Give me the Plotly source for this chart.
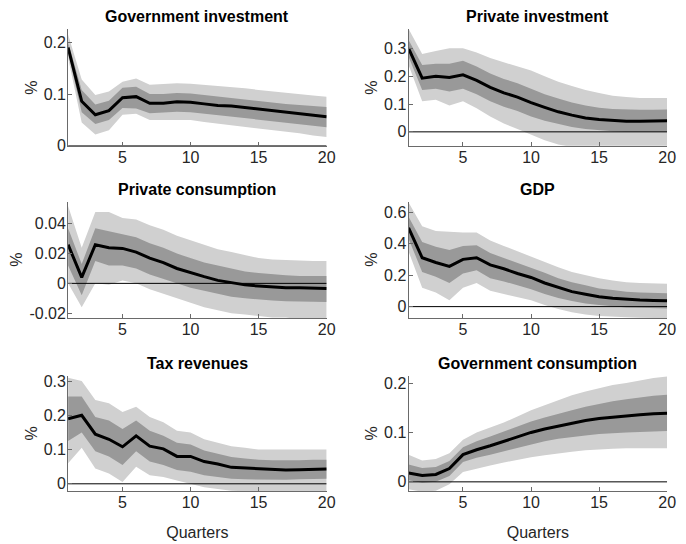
import plotly.graph_objects as go

quarters = list(range(1, 21))

titles = ["Government investment", "Private investment", "Private consumption",
          "GDP", "Tax revenues", "Government consumption"]

# Government investment
gi_med = [0.19, 0.086, 0.06, 0.068, 0.093, 0.095, 0.082, 0.082, 0.085, 0.084,
          0.081, 0.078, 0.077, 0.074, 0.071, 0.068, 0.065, 0.062, 0.059, 0.056]
gi_lo68 = [0.18, 0.065, 0.042, 0.05, 0.073, 0.072, 0.063, 0.064, 0.066, 0.065,
           0.062, 0.059, 0.057, 0.054, 0.051, 0.048, 0.045, 0.042, 0.039, 0.036]
gi_hi68 = [0.2, 0.108, 0.08, 0.087, 0.112, 0.114, 0.1, 0.1, 0.102, 0.101,
           0.098, 0.095, 0.093, 0.09, 0.087, 0.084, 0.081, 0.079, 0.077, 0.075]
gi_lo90 = [0.17, 0.045, 0.022, 0.03, 0.06, 0.062, 0.05, 0.05, 0.051, 0.05,
           0.046, 0.043, 0.04, 0.037, 0.034, 0.031, 0.027, 0.024, 0.02, 0.017]
gi_hi90 = [0.215, 0.128, 0.098, 0.105, 0.124, 0.13, 0.118, 0.12, 0.121, 0.12,
           0.118, 0.116, 0.114, 0.111, 0.108, 0.105, 0.102, 0.1, 0.097, 0.095]

# Private investment
pi_med = [0.30, 0.193, 0.20, 0.195, 0.205, 0.185, 0.16, 0.14, 0.125, 0.105,
          0.088, 0.072, 0.06, 0.05, 0.044, 0.04, 0.038, 0.038, 0.039, 0.04]
pi_lo68 = [0.27, 0.15, 0.155, 0.145, 0.155, 0.135, 0.11, 0.09, 0.075, 0.055,
           0.04, 0.028, 0.017, 0.01, 0.005, 0.002, 0.0, 0.0, 0.0, 0.0]
pi_hi68 = [0.33, 0.24, 0.245, 0.245, 0.255, 0.235, 0.21, 0.19, 0.175, 0.155,
           0.135, 0.12, 0.105, 0.095, 0.087, 0.082, 0.08, 0.079, 0.079, 0.08]
pi_lo90 = [0.24, 0.11, 0.115, 0.095, 0.11, 0.085, 0.055, 0.03, 0.01, -0.01,
           -0.03, -0.045, -0.055, -0.06, -0.065, -0.068, -0.07, -0.07, -0.07, -0.07]
pi_hi90 = [0.37, 0.28, 0.29, 0.30, 0.30, 0.285, 0.265, 0.25, 0.235, 0.22,
           0.2, 0.18, 0.165, 0.15, 0.14, 0.13, 0.125, 0.122, 0.122, 0.122]

# Private consumption
pc_med = [0.026, 0.004, 0.026, 0.024, 0.0235, 0.021, 0.017, 0.014, 0.010, 0.007,
          0.0045, 0.002, 0.0005, -0.001, -0.0018, -0.0025, -0.003, -0.003, -0.0033, -0.0035]
pc_lo68 = [0.012, -0.008, 0.015, 0.012, 0.012, 0.01, 0.006, 0.003, -0.0005, -0.003,
           -0.005, -0.007, -0.009, -0.01, -0.011, -0.0115, -0.012, -0.012, -0.012, -0.0125]
pc_hi68 = [0.037, 0.013, 0.037, 0.035, 0.033, 0.031, 0.027, 0.024, 0.02, 0.017,
           0.014, 0.012, 0.01, 0.008, 0.007, 0.006, 0.0055, 0.005, 0.005, 0.005]
pc_lo90 = [0.0, -0.016, 0.0, -0.001, 0.002, 0.0, -0.004, -0.007, -0.01, -0.013,
           -0.016, -0.018, -0.02, -0.021, -0.022, -0.023, -0.023, -0.024, -0.024, -0.024]
pc_hi90 = [0.052, 0.024, 0.048, 0.048, 0.044, 0.043, 0.039, 0.036, 0.032, 0.029,
           0.026, 0.023, 0.021, 0.019, 0.017, 0.016, 0.0155, 0.015, 0.015, 0.015]

# GDP
gdp_med = [0.50, 0.31, 0.28, 0.255, 0.30, 0.31, 0.265, 0.24, 0.21, 0.185,
           0.15, 0.12, 0.095, 0.078, 0.063, 0.053, 0.046, 0.042, 0.039, 0.037]
gdp_lo68 = [0.43, 0.22, 0.19, 0.15, 0.21, 0.23, 0.18, 0.16, 0.135, 0.11,
            0.08, 0.055, 0.035, 0.02, 0.01, 0.002, -0.005, -0.008, -0.01, -0.012]
gdp_hi68 = [0.57, 0.41, 0.38, 0.36, 0.385, 0.39, 0.34, 0.31, 0.28, 0.25,
            0.215, 0.18, 0.155, 0.135, 0.115, 0.105, 0.095, 0.09, 0.087, 0.085]
gdp_lo90 = [0.35, 0.12, 0.09, 0.04, 0.12, 0.15, 0.1, 0.08, 0.06, 0.04,
            0.01, -0.015, -0.035, -0.05, -0.06, -0.065, -0.068, -0.07, -0.072, -0.074]
gdp_hi90 = [0.66, 0.51, 0.48, 0.475, 0.47, 0.47, 0.42, 0.385, 0.35, 0.32,
            0.285, 0.25, 0.22, 0.2, 0.18, 0.165, 0.155, 0.15, 0.147, 0.145]

# Tax revenues
tax_med = [0.19, 0.20, 0.145, 0.13, 0.108, 0.14, 0.11, 0.102, 0.08, 0.08,
           0.065, 0.058, 0.048, 0.046, 0.042, 0.041, 0.04, 0.041, 0.042, 0.043]
tax_lo68 = [0.125, 0.15, 0.095, 0.08, 0.055, 0.095, 0.065, 0.055, 0.04, 0.035,
            0.025, 0.02, 0.015, 0.013, 0.012, 0.012, 0.012, 0.013, 0.014, 0.015]
tax_hi68 = [0.255, 0.255, 0.195, 0.185, 0.16, 0.185, 0.155, 0.14, 0.12, 0.115,
            0.097, 0.088, 0.078, 0.074, 0.07, 0.069, 0.068, 0.069, 0.07, 0.07]
tax_lo90 = [0.06, 0.105, 0.045, 0.03, 0.005, 0.05, 0.025, 0.02, 0.01, 0.0,
            -0.01, -0.015, -0.02, -0.022, -0.024, -0.025, -0.025, -0.025, -0.025, -0.025]
tax_hi90 = [0.31, 0.30, 0.245, 0.235, 0.21, 0.225, 0.195, 0.18, 0.155, 0.15,
            0.13, 0.12, 0.11, 0.105, 0.1, 0.1, 0.099, 0.1, 0.1, 0.1]

# Government consumption
gc_med = [0.018, 0.013, 0.015, 0.027, 0.055, 0.065, 0.073, 0.082, 0.091, 0.1,
          0.107, 0.113, 0.119, 0.124, 0.128, 0.131, 0.134, 0.136, 0.138, 0.139]
gc_lo68 = [0.003, -0.002, 0.0, 0.012, 0.04, 0.049, 0.055, 0.062, 0.069, 0.076,
           0.082, 0.087, 0.091, 0.094, 0.097, 0.099, 0.1, 0.101, 0.102, 0.103]
gc_hi68 = [0.035, 0.028, 0.03, 0.042, 0.07, 0.082, 0.092, 0.102, 0.112, 0.122,
           0.13, 0.138, 0.145, 0.152, 0.158, 0.163, 0.167, 0.171, 0.174, 0.176]
gc_lo90 = [-0.015, -0.02, -0.018, -0.005, 0.02, 0.027, 0.033, 0.039, 0.045, 0.05,
           0.054, 0.058, 0.061, 0.064, 0.066, 0.067, 0.068, 0.068, 0.068, 0.068]
gc_hi90 = [0.055, 0.043, 0.046, 0.058, 0.085, 0.1, 0.11, 0.12, 0.132, 0.145,
           0.155, 0.165, 0.175, 0.183, 0.19, 0.196, 0.2, 0.205, 0.21, 0.213]

y_ranges = [[0, 0.225], [-0.05, 0.368], [-0.0232, 0.055],
            [-0.0716, 0.667], [-0.021, 0.316], [-0.0185, 0.215]]
y_ticks = [[0, 0.1, 0.2], [0, 0.1, 0.2, 0.3], [-0.02, 0, 0.02, 0.04],
           [0, 0.2, 0.4, 0.6], [0, 0.1, 0.2, 0.3], [0, 0.1, 0.2]]
y_ticktext = [["0", "0.1", "0.2"], ["0", "0.1", "0.2", "0.3"],
              ["-0.02", "0", "0.02", "0.04"], ["0", "0.2", "0.4", "0.6"],
              ["0", "0.1", "0.2", "0.3"], ["0", "0.1", "0.2"]]
x_ticks = [5, 10, 15, 20]

panels = [
    (gi_med, gi_lo68, gi_hi68, gi_lo90, gi_hi90),
    (pi_med, pi_lo68, pi_hi68, pi_lo90, pi_hi90),
    (pc_med, pc_lo68, pc_hi68, pc_lo90, pc_hi90),
    (gdp_med, gdp_lo68, gdp_hi68, gdp_lo90, gdp_hi90),
    (tax_med, tax_lo68, tax_hi68, tax_lo90, tax_hi90),
    (gc_med, gc_lo68, gc_hi68, gc_lo90, gc_hi90),
]

W, H = 686, 544
col_px = [(69, 331), (414, 676)]
row_px = [(27, 146), (203, 322), (381, 499)]

LIGHT = "#d0d0d0"
DARK = "#999999"
FONT = "Liberation Sans, Arial, sans-serif"
TXT = "#262626"
AXLINE = "#6a6a6a"
TS = 16

fig = go.Figure()
layout = dict(
    width=W, height=H,
    margin=dict(l=0, r=0, t=0, b=0),
    paper_bgcolor="white", plot_bgcolor="white",
    showlegend=False,
    font=dict(family=FONT, size=TS, color=TXT),
    annotations=[],
)

for i, (med, lo68, hi68, lo90, hi90) in enumerate(panels):
    r, c = divmod(i, 2)
    n = i + 1
    xa = "x" if n == 1 else f"x{n}"
    ya = "y" if n == 1 else f"y{n}"

    def band(lo, hi, color):
        fig.add_trace(go.Scatter(x=quarters, y=lo, mode="lines",
                                 line=dict(width=0, color=color),
                                 xaxis=xa, yaxis=ya, hoverinfo="skip"))
        fig.add_trace(go.Scatter(x=quarters, y=hi, mode="lines",
                                 line=dict(width=0, color=color),
                                 fill="tonexty", fillcolor=color,
                                 xaxis=xa, yaxis=ya, hoverinfo="skip"))

    band(lo90, hi90, LIGHT)
    band(lo68, hi68, DARK)
    fig.add_trace(go.Scatter(x=quarters, y=[0] * len(quarters), mode="lines",
                             line=dict(width=1, color="black"),
                             xaxis=xa, yaxis=ya, hoverinfo="skip"))
    fig.add_trace(go.Scatter(x=quarters, y=med, mode="lines",
                             line=dict(width=3, color="black"),
                             xaxis=xa, yaxis=ya))

    x0, x1 = col_px[c]
    y0, y1 = row_px[r]
    xdom = [x0 / W, x1 / W]
    ydom = [1 - y1 / H, 1 - y0 / H]

    xaxis = dict(domain=xdom, anchor=ya, range=[1, 20],
                 tickmode="array", tickvals=x_ticks,
                 ticks="inside", ticklen=4, tickcolor=AXLINE,
                 ticklabelstandoff=-3,
                 showline=True, linecolor=AXLINE, linewidth=1,
                 showgrid=False, zeroline=False,
                 tickfont=dict(size=TS, color=TXT))
    if r == 2:
        xaxis["title"] = dict(text="Quarters", font=dict(size=TS, color=TXT),
                              standoff=16)
    yaxis = dict(domain=ydom, anchor=xa, range=y_ranges[i],
                 tickmode="array", tickvals=y_ticks[i], ticktext=y_ticktext[i],
                 ticks="inside", ticklen=4, tickcolor=AXLINE,
                 ticklabelstandoff=-2,
                 showline=True, linecolor=AXLINE, linewidth=1,
                 showgrid=False, zeroline=False,
                 tickfont=dict(size=TS, color=TXT),
                 title=dict(text="%", font=dict(size=TS, color=TXT), standoff=2))
    layout["xaxis" if n == 1 else f"xaxis{n}"] = xaxis
    layout["yaxis" if n == 1 else f"yaxis{n}"] = yaxis

    layout["annotations"].append(dict(
        text=f"<b>{titles[i]}</b>", x=(xdom[0] + xdom[1]) / 2, y=ydom[1],
        xref="paper", yref="paper", xanchor="center", yanchor="bottom",
        yshift=2, showarrow=False,
        font=dict(family=FONT, size=16, color="black")))

fig.update_layout(**layout)
fig.write_html("out.html")
